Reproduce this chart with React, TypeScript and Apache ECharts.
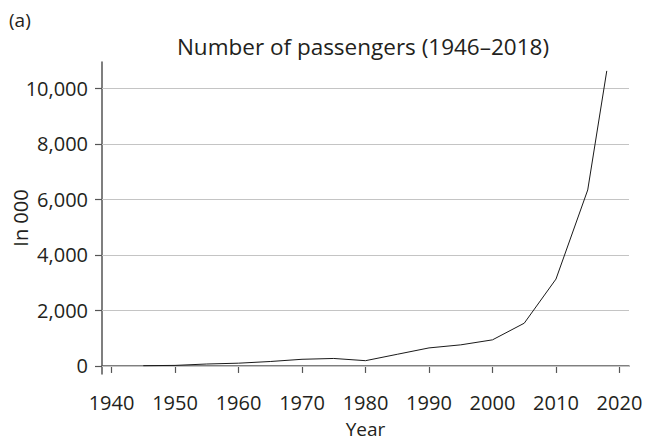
import React, { useEffect, useRef } from "react";
import * as echarts from "echarts";

// Passengers per year, thousands
const years = [1945, 1950, 1955, 1960, 1965, 1970, 1975, 1980, 1985, 1990, 1995, 2000, 2005, 2010, 2015, 2018];
const passengers = [10, 20, 70, 100, 160, 240, 270, 190, 420, 650, 760, 940, 1540, 3130, 6340, 10630];

const yearTicks = [1940, 1950, 1960, 1970, 1980, 1990, 2000, 2010, 2020];
const valueTicks = [0, 2000, 4000, 6000, 8000, 10000];

const FONT = "'Open Sans', 'Noto Sans', sans-serif";
const INK = "#231f20";
const LABEL_SIZE = 20;

export default function App() {
  const ref = useRef<HTMLDivElement>(null);

  useEffect(() => {
    if (!ref.current) return;
    const chart = echarts.init(ref.current, null, { renderer: "svg" });
    chart.setOption({
      animation: false,
      backgroundColor: "#ffffff",
      textStyle: { fontFamily: FONT, color: INK },
      title: [
        {
          text: "(a)",
          left: 4,
          top: 5,
          textStyle: { fontFamily: FONT, fontSize: 19, fontWeight: "normal", color: INK },
        },
        {
          text: "Number of passengers (1946–2018)",
          left: 358,
          top: 30,
          textAlign: "center",
          textStyle: { fontFamily: FONT, fontSize: 22.5, fontWeight: "normal", color: INK },
        },
      ],
      grid: {
        left: 102,
        right: 18,
        top: 62,
        bottom: 67,
        containLabel: false,
        outerBoundsMode: "none",
      },
      xAxis: {
        type: "value",
        min: 1938.5,
        max: 2021.5,
        name: "Year",
        nameLocation: "middle",
        nameGap: 45,
        nameMoveOverlap: false,
        nameTextStyle: { fontFamily: FONT, fontSize: 19, lineHeight: 19, color: INK },
        axisLine: { show: true, lineStyle: { color: "#555555", width: 1.5 } },
        axisTick: { show: true, length: 7, customValues: yearTicks, lineStyle: { color: "#555555", width: 1.2 } },
        axisLabel: {
          customValues: yearTicks,
          margin: 18,
          fontFamily: FONT,
          fontSize: LABEL_SIZE,
          lineHeight: 20,
          color: INK,
          formatter: (v: number) => String(v),
        },
        splitLine: { show: false },
      },
      yAxis: {
        type: "value",
        min: -290,
        max: 10950,
        name: "In 000",
        nameLocation: "middle",
        nameGap: 72,
        nameMoveOverlap: false,
        nameRotate: 90,
        nameTextStyle: { fontFamily: FONT, fontSize: LABEL_SIZE, color: INK },
        axisLine: { show: true, lineStyle: { color: "#555555", width: 1.5 } },
        axisTick: { show: true, length: 7, customValues: valueTicks, lineStyle: { color: "#555555", width: 1.2 } },
        axisLabel: {
          customValues: valueTicks,
          margin: 14,
          fontFamily: FONT,
          fontSize: LABEL_SIZE,
          color: INK,
          formatter: (v: number) => v.toLocaleString("en-US"),
        },
        splitLine: { show: false },
      },
      series: [
        {
          type: "line",
          data: years.map((y, i) => [y, passengers[i]]),
          showSymbol: false,
          lineStyle: { color: "#1a1a1a", width: 1 },
          markLine: {
            silent: true,
            symbol: "none",
            label: { show: false },
            lineStyle: { color: "#c4c4c4", width: 1.2, type: "solid" },
            data: valueTicks.map((v) => ({ yAxis: v })),
            z: 1,
          },
          z: 3,
        },
      ],
    });
    return () => chart.dispose();
  }, []);

  return (
    <div
      ref={ref}
      style={{ position: "fixed", left: 0, top: 0, width: 647, height: 441 }}
    />
  );
}
